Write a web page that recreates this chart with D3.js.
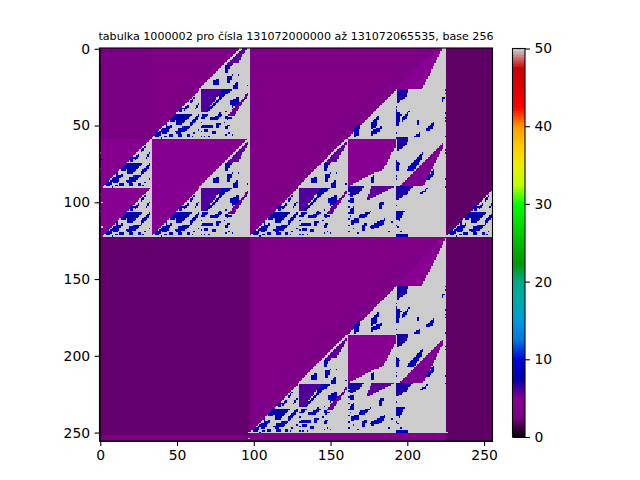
<!DOCTYPE html>
<html>
<head>
<meta charset="utf-8">
<script src="https://d3js.org/d3.v7.min.js"></script>
<style>
html, body { margin: 0; padding: 0; background: #fff; }
svg { display: block; }
text { font-family: "DejaVu Sans", sans-serif; fill: #000; }
.tick line, .domain { stroke: #000; stroke-width: 1.1px; }
.tick text { font-size: 13.9px; }
</style>
</head>
<body>
<svg id="chart" width="640" height="480"></svg>
<script>
var titleText = "tabulka 1000002 pro čísla 131072000000 až 131072065535, base 256";
var axisTicks = [0, 50, 100, 150, 200, 250];
var barTicks = [0, 10, 20, 30, 40, 50];

/* nipy_spectral stops, purple end read a bit redder from the picture */
var cmapStops = [0, .05, .1, .15, .2, .25, .3, .35, .4, .45, .5, .55, .6, .65, .7, .75, .8, .85, .9, .95, 1];
var cmapRed = [0, .4667, .5333, 0, 0, 0, 0, 0, 0, 0, 0, 0, 0, .7333, .9333, 1, 1, 1, .8667, .8, .8];
var cmapGreen = [0, 0, 0, 0, 0, .4667, .6, .6667, .6667, .6, .7333, .8667, 1, 1, .9333, .8, .6, 0, 0, 0, .8];
var cmapBlue = [0, .5, .57, .6667, .8667, .8667, .8667, .6667, .5333, 0, 0, 0, 0, 0, 0, 0, 0, 0, 0, 0, .8];

/* value, x0, y0, x1, y1 - table background blocks */
var backgroundBlocks = [
    [3, 0, 0, 34, 59],
    [3.4, 34, 0, 98, 59],
    [4.5, 0, 59, 34, 91],
    [5, 0, 91, 34, 123],
    [4.6, 34, 59, 98, 123],
    [3.4, 98, 0, 226, 123],
    [2, 226, 0, 256, 123],
    [2.1, 0, 123, 98, 256],
    [3.4, 98, 123, 226, 256],
    [2, 226, 123, 256, 256],
    [3, 0, 252, 98, 256],
    [4, 98, 251, 226, 256]
];

/* value then x,y pairs; local to the block origin. 3 items = one cell */
var smallShapes = [
    [50, 32,0, 32,32, 0,32],
    [7.5, 15,16, 26,16, 20,23, 16,23],
    [8.5, 29,3, 27,6, 24.5,8, 26,9],
    [8.5, 24,9, 21.5,12, 21,14, 24,12],
    [8.5, 29,11, 31,9, 30,12],
    [8.5, 24.4,21.7, 32,15.2, 29.8,19.6, 25.5,23.9],
    [8.5, 16.8,25, 25.5,24, 21.1,28.3, 16.1,28.9],
    [8.5, 5.9,26, 13.5,22.8, 10.3,28.3, 7,29.3],
    [8.5, 1.6,29.3, 5.9,27.2, 5.3,31.1, 1.6,31.1],
    [8.5, 9,22, 10,22, 10,26, 9,26],
    [8.5, 18,12, 21,12, 20,15, 18,15],
    [8.5, 12,19, 15,17, 15,21, 12,21],
    [8.5, 17,29.5, 20,29.5, 20,31, 17,31],
    [8.5, 23.5,29.5, 25,29.5, 25,31, 23.5,31],
    [8.5, 11,29, 14,29, 14,31, 11,31],
    [10, 8, 30], [10, 9, 30], [11, 3, 26], [9, 27, 28], [9, 30, 26], [9, 28, 12], [9, 22, 26], [10, 15, 27], [11, 20, 24], [9, 26, 30], [9, 6, 31]
];

var midShapes = [
    [50, 62,0, 64,0, 64,64, 0,64],
    [5.8, 63,1, 49,16, 56.5,15, 63,3],
    [8.5, 47.7,16.4, 52,16.4, 49.2,21.2, 47.7,20.7],
    [8.5, 40.1,26.6, 43.4,24.4, 44,28.8, 39.7,28.8],
    [8.5, 48.8,23.3, 52.7,22.3, 51,27.7, 48.8,28.3],
    [8.5, 53.1,29.8, 56.4,26.6, 56.4,31.6, 53.6,32],
    [8.5, 44,32, 52,32, 50,35, 44,37],
    [8.5, 47,34, 49,34, 37,47, 35,47],
    [6, 32,32, 46.5,32, 35,47, 32,47],
    [8.5, 51,39.6, 57.5,36.4, 56.4,41.8, 52,44],
    [5.7, 63,33.8, 48.4,50, 54.2,48.3, 63,35.3],
    [8.5, 47.7,48.3, 52,50.5, 48.8,52.6],
    [8.5, 32.5,48.3, 36.9,48.3, 33.6,51.5],
    [8.5, 38,50.5, 46.6,47.2, 43.4,51.5, 38,52.6],
    [8.5, 33,55, 40,54.5, 40,56.5, 33,57],
    [8.5, 34,58, 37,58, 37,60, 34,60],
    [8.5, 48,56, 51,55, 50,58, 48,58],
    [8.5, 39,59, 42,59, 42,61, 39,61],
    [8.5, 42,54, 45,54, 44,57, 42,57],
    [10, 32, 50], [10, 32, 53], [10, 32, 56], [10, 32, 59], [10, 32, 62],
    [9, 34, 62], [9, 37, 62], [9, 48, 61], [9, 50, 60], [9, 62, 29], [9, 56, 22], [9, 45, 33], [9, 42, 40], [9, 48, 46], [9, 44, 47], [9, 52, 61], [9, 47, 53]
];

var bigShapes = [
    [50, 127.5,1, 128,1, 128,128, 0,128, 95,32, 111.8,32],
    [5, 95,32, 111.8,32, 127.5,1, 126,1],
    [7, 95.5,32, 103,32, 102,36.9, 96,41],
    [5, 64,64, 95.5,64, 95.5,68, 86,85, 82,86, 64,95],
    [7, 95.5,63.5, 103,63.5, 102,68, 96.5,72],
    [5.2, 125.9,66.7, 97.7,95, 112.8,95, 126.3,69],
    [8.5, 98.7,50.5, 104.6,45, 102,50.5, 98.7,53.7],
    [8.5, 95.5,46.1, 98.7,48.3, 96.6,55.9, 95.5,55.9],
    [8.5, 115,58.1, 120.4,51.6, 119.4,57, 116.1,59.2],
    [8.5, 109.6,51.6, 110.7,51.6, 109.6,55.5, 108.5,55.5],
    [8.5, 106.8,62.4, 110.7,59.8, 111.1,63.5, 106.8,63.5],
    [8.5, 124.8,37.4, 127,36.4, 125.9,40.7],
    [8.5, 102,84.1, 113.9,71.1, 111.8,77.6, 106.3,85.2, 102,85.2],
    [8.5, 95,77.6, 97.7,79.8, 96.6,85.2, 95,85.2],
    [8.5, 115,90.6, 119.4,84.1, 120.4,86.3, 117.2,90.6],
    [7, 64,95, 73.8,95, 71.6,99.3, 65,102.5],
    [5.8, 75.5,104.7, 79.2,95.4, 94.4,95.4, 84.6,100.4],
    [7, 95.5,95.4, 105.9,95.4, 102,100.4, 96.6,104.1, 95.5,104.1],
    [8.5, 110.7,99.3, 117.2,95.4, 114,99.3, 111.8,99.7],
    [8.5, 95.5,111.2, 100.9,111.2, 97.7,117.7, 95.5,116.6],
    [8.5, 78.1,121, 89,115.6, 85.7,121, 79.2,123.2],
    [8.5, 71.6,113.4, 79.2,111.2, 74.9,115.6, 70.5,116.6],
    [8, 95.5,126, 103,126, 103,128, 95.5,128],
    [8.5, 79,54, 84,49, 83,56, 79,58],
    [8.5, 79,59, 86,56, 85,60, 79,62],
    [8.5, 68,58, 72,54, 71,62, 68,63],
    [8.5, 65,103, 68,103, 68,106, 65,106],
    [8.5, 65,110, 68,108, 68,113, 65,113],
    [8.5, 66,117, 71,116, 71,119, 66,120],
    [8.5, 73,120, 76,119, 75,124, 73,124],
    [8.5, 84,106, 87,105, 86,110, 84,110],
    [8.5, 79,90, 81,88, 81,93, 79,93],
    [10, 64, 100], [10, 64, 104], [10, 64, 108], [10, 64, 112], [10, 64, 116], [10, 64, 120], [10, 64, 124],
    [10, 65, 98], [11, 65, 114], [11, 67, 122], [9, 70, 125], [9, 90, 124], [9, 92, 118], [9, 96, 121], [9, 98, 124],
    [10, 95, 43], [10, 95, 45], [10, 95, 60], [10, 95, 88], [10, 95, 90], [10, 95, 107], [10, 95, 120],
    [10, 127, 32], [10, 127, 34], [10, 127, 47], [10, 127, 50], [10, 127, 52], [10, 127, 62], [10, 127, 71], [10, 127, 73], [10, 127, 90], [10, 127, 95]
];

/* where each repeating block sits on the table */
var bigPlaces = [[98, -5], [98, 123]];
var midPlaces = [[34, -5], [34, 59], [98, 59], [98, 187]];
var smallPlaces = [[34, 27], [34, 91], [98, 91], [98, 219], [2, 59], [2, 91], [226, 91]];

/* single cells that stand on their own: value, x, y */
var looseCells = [
    [50, 0, 95], [50, 1, 100], [50, 0, 106], [9, 0, 112], [50, 1, 116], [9, 0, 118], [50, 0, 68], [9, 1, 72], [50, 0, 78],
    [9, 29, 132], [50, 97, 250], [50, 97, 254], [50, 225, 250], [50, 226, 250]
];

var plotLeft = 99.5, plotRight = 492.5, plotTop = 48, plotBottom = 441;
var svg = d3.select("#chart");

var x = d3.scaleLinear().domain([-0.5, 255.5]).range([plotLeft, plotRight]);
var y = d3.scaleLinear().domain([-0.5, 255.5]).range([plotTop, plotBottom]);

var toByte = function(v) { return Math.round(v * 255); };
var redOf = d3.scaleLinear().domain(cmapStops).range(cmapRed).clamp(true);
var greenOf = d3.scaleLinear().domain(cmapStops).range(cmapGreen).clamp(true);
var blueOf = d3.scaleLinear().domain(cmapStops).range(cmapBlue).clamp(true);
var colorOf = function(v) {
    var t = v / 50;
    return d3.rgb(toByte(redOf(t)), toByte(greenOf(t)), toByte(blueOf(t))).formatHex();
};

/* value matrix of the table */
var N = 256;
var grid = d3.range(N).map(function() { return new Float32Array(N); });

backgroundBlocks.forEach(function(b) {
    for (var r = b[2]; r < b[4]; r++)
        for (var c = b[1]; c < b[3]; c++) grid[r][c] = b[0];
});

function setCell(c, r, v) {
    if (r >= 0 && r < N && c >= 0 && c < N) grid[r][c] = v;
}

function paint(shapes, dx, dy) {
    shapes.forEach(function(s) {
        if (s.length == 3) {
            setCell(s[1] + dx, s[2] + dy, s[0]);
            return;
        }
        var poly = [];
        for (var i = 1; i < s.length; i += 2) poly.push([s[i] + dx, s[i + 1] + dy]);
        var ex = d3.extent(poly, function(p) { return p[0]; });
        var ey = d3.extent(poly, function(p) { return p[1]; });
        for (var r = Math.floor(ey[0]); r <= Math.ceil(ey[1]); r++) {
            for (var c = Math.floor(ex[0]); c <= Math.ceil(ex[1]); c++) {
                if (d3.polygonContains(poly, [c + .5, r + .5])) setCell(c, r, s[0]);
            }
        }
    });
}

bigPlaces.forEach(function(p) { paint(bigShapes, p[0], p[1]); });
midPlaces.forEach(function(p) { paint(midShapes, p[0], p[1]); });
smallPlaces.forEach(function(p) { paint(smallShapes, p[0], p[1]); });
paint(looseCells, 0, 0);

var runs = [];
for (var r = 0; r < N; r++) {
    var start = 0;
    for (var c = 1; c <= N; c++) {
        if (c == N || grid[r][c] != grid[r][start]) {
            runs.push({ r: r, c0: start, c1: c, v: grid[r][start] });
            start = c;
        }
    }
}

svg.append("g").attr("shape-rendering", "crispEdges")
    .selectAll("rect")
    .data(runs)
    .enter().append("rect")
    .attr("x", function(d) { return x(d.c0 - .5); })
    .attr("y", function(d) { return y(d.r - .5); })
    .attr("width", function(d) { return x(d.c1 - .5) - x(d.c0 - .5); })
    .attr("height", function(d) { return y(d.r + .5) - y(d.r - .5); })
    .attr("fill", function(d) { return colorOf(d.v); });

var axisBottom = d3.axisBottom(x).tickValues(axisTicks).tickSize(4.9).tickPadding(4.5).tickSizeOuter(0);
var axisLeft = d3.axisLeft(y).tickValues(axisTicks).tickSize(4.9).tickPadding(4.5).tickSizeOuter(0);

svg.append("g").attr("transform", "translate(0," + plotBottom + ")").call(axisBottom);
svg.append("g").attr("transform", "translate(" + plotLeft + ",0)").call(axisLeft);
svg.append("rect").attr("x", plotLeft).attr("y", plotTop).attr("width", plotRight - plotLeft).attr("height", plotBottom - plotTop)
    .attr("fill", "none").attr("stroke", "#000").attr("stroke-width", 1.1);

svg.append("text").attr("x", (plotLeft + plotRight) / 2).attr("y", 40).attr("text-anchor", "middle")
    .attr("font-size", 11.1).text(titleText);

/* colour bar */
var barLeft = 512.5, barRight = 525, barTop = 48.5, barBottom = 437;
var bar = d3.scaleLinear().domain([0, 50]).range([barBottom, barTop]);
var levels = d3.range(0, 50, 50 / 256);

svg.append("g").attr("shape-rendering", "crispEdges")
    .selectAll("rect")
    .data(levels)
    .enter().append("rect")
    .attr("x", barLeft)
    .attr("width", barRight - barLeft)
    .attr("y", function(d) { return bar(d + 50 / 256); })
    .attr("height", function(d) { return bar(d) - bar(d + 50 / 256) + .5; })
    .attr("fill", function(d) { return colorOf(d + 25 / 256); });

svg.append("g").attr("transform", "translate(" + barRight + ",0)")
    .call(d3.axisRight(bar).tickValues(barTicks).tickSize(4.9).tickPadding(4.5).tickSizeOuter(0))
    .select(".domain").remove();
svg.append("rect").attr("x", barLeft).attr("y", barTop).attr("width", barRight - barLeft).attr("height", barBottom - barTop)
    .attr("fill", "none").attr("stroke", "#000").attr("stroke-width", 1.1);
</script>
</body>
</html>
